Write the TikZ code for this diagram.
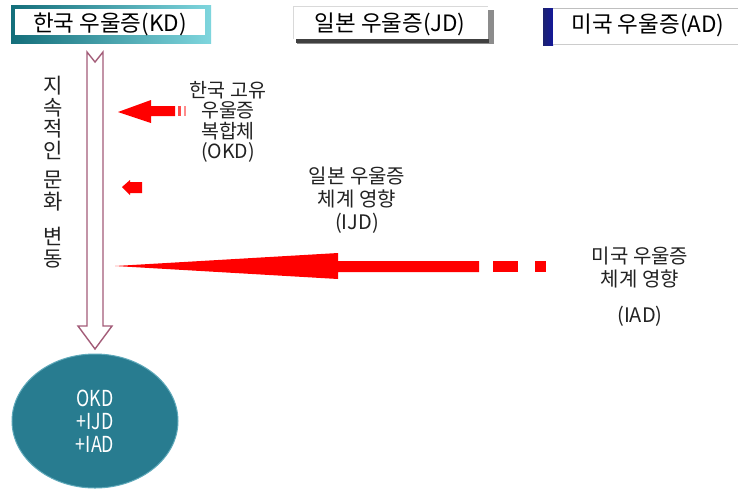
\documentclass[tikz,border=0pt]{standalone}
\usepackage{fontspec}
\setmainfont{Noto Sans CJK KR}
\usetikzlibrary{shapes.geometric}
\definecolor{kddark}{HTML}{136E7A}
\definecolor{kdlight}{HTML}{7FD6DE}
\definecolor{hollow}{HTML}{A35C78}
\definecolor{ballteal}{HTML}{287C90}
\definecolor{balledge}{HTML}{5FA9BA}
\definecolor{navybar}{HTML}{1C2270}
\definecolor{txt}{HTML}{222222}
\tikzset{
  boxlabel/.style={inner sep=0pt, text=black, font=\fontsize{22.5}{24}\selectfont},
  sidelabel/.style={inner sep=0pt, align=center, text=txt},
}
\begin{document}
\begin{tikzpicture}[x=1pt,y=-1pt]
\useasboundingbox (0,0) rectangle (738,499);
\fill[white] (0,0) rectangle (738,499);

% KD box
\fill[left color=kddark, right color=kdlight] (11,5) rectangle (211,43);
\fill[white] (15,9) rectangle (205,35);
\node[boxlabel] (kd) at (110,24) {한국 우울증(KD)};

% JD box
\fill[black!45] (297,10) rectangle (494,44);
\fill[black!75] (296,39) rectangle (489,43);
\fill[white] (293,6) rectangle (488,39);
\draw[black!15] (293,39) -- (293,6) -- (488,6);
\node[boxlabel] (jd) at (390,24) {일본 우울증(JD)};

% AD box
\fill[left color=navybar, right color=navybar!70!blue] (543,8) rectangle (553,45);
\fill[white] (553,9) rectangle (738,44);
\draw[black!25] (553,8.5) -- (738,8.5);
\draw[black!20] (553,44.5) -- (738,44.5);
\node[boxlabel] (ad) at (648,25) {미국 우울증(AD)};

% hollow down arrow
\draw[hollow, line width=1.4pt, fill=white, line join=miter]
  (87,52) -- (95,62) -- (103,52) -- (103,326) -- (112,326) -- (95,349)
  -- (78,326) -- (87,326) -- cycle;

% vertical label
\node[sidelabel, anchor=north, font=\fontsize{21}{21.5}\selectfont] (vtext) at (53,76)
  {지\\속\\적\\인\\[8pt]문\\화\\[14pt]변\\동};

% red arrow 1 (OKD)
\fill[red] (118,112) -- (151,100) -- (151,106) -- (175,106) -- (175,116) -- (151,116) -- (151,123) -- cycle;
\fill[red!70] (178,106) rectangle (181,116);
\fill[red!45] (183.5,106) rectangle (186,116);

% red arrow 2 (small)
\fill[red] (122,187) -- (130,180) -- (130,182) -- (142,182) -- (142,193) -- (130,193) -- (130,195) -- cycle;

% red arrow 3 (long)
\fill[red] (115,266) -- (338,253) -- (338,261) -- (479,261) -- (479,272) -- (338,272) -- (338,279) -- cycle;
\fill[red] (493,261) rectangle (518,272);
\fill[red] (535,261) rectangle (546,272);

% labels
\node[sidelabel, font=\fontsize{19.5}{20.5}\selectfont] (okd) at (228,122)
  {한국 고유\\우울증\\복합체\\(OKD)};
\node[sidelabel, font=\fontsize{20}{23}\selectfont] (ijd) at (357,200)
  {일본 우울증\\체계 영향\\(IJD)};
\node[sidelabel, font=\fontsize{20}{23}\selectfont] (iad) at (640,287)
  {미국 우울증\\체계 영향\\[13pt](IAD)};

% result ellipse
\node[ellipse, minimum width=166pt, minimum height=134pt, fill=ballteal,
      draw=balledge, line width=1pt, inner sep=0pt] (res) at (95,421) {};
\node[sidelabel, text=white, font=\fontsize{21}{23}\selectfont] (restext) at (res.center)
  {\scalebox{0.85}[1.05]{OKD}\\\scalebox{0.85}[1.05]{+IJD}\\\scalebox{0.85}[1.05]{+IAD}};
\end{tikzpicture}
\end{document}
